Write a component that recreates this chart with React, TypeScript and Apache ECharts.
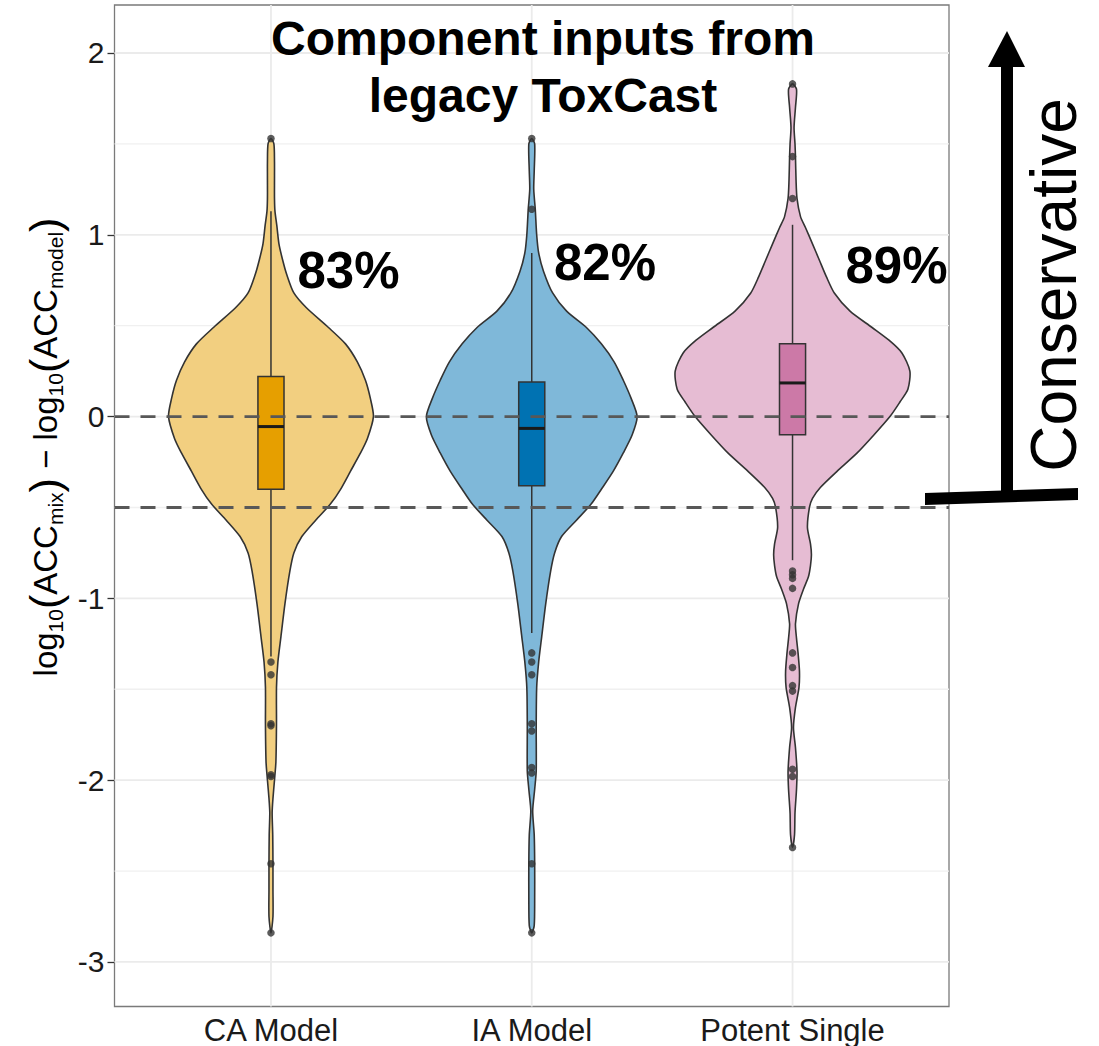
import React, { useEffect, useRef } from 'react';
import * as echarts from 'echarts';

// ---------- data ----------
const categories = ['CA Model', 'IA Model', 'Potent Single'];
const categoryPositions = [1, 2, 3];
const yTicks = [-3, -2, -1, 0, 1, 2];
const yMinorGrid = [-2.5, -1.5, -0.5, 0.5, 1.5];
const referenceLines = [0, -0.5];
const percentLabels = ['83%', '82%', '89%'];

// violin density profiles: [value, relative density (1 = widest violin)]
const caViolin: number[][] = [
  [1.53, 0], [1.5, 0.025], [1.4, 0.03], [1.3, 0.03], [1.2, 0.03], [1.13, 0.034], [1.05, 0.05],
  [0.95, 0.068], [0.86, 0.1], [0.78, 0.135], [0.68, 0.195], [0.6, 0.3], [0.49, 0.49], [0.4, 0.635],
  [0.3, 0.737], [0.2, 0.805], [0.1, 0.847], [0.0, 0.873], [-0.12, 0.822], [-0.2, 0.763], [-0.3, 0.678],
  [-0.4, 0.593], [-0.48, 0.508], [-0.57, 0.381], [-0.66, 0.263], [-0.75, 0.195], [-0.85, 0.161],
  [-1.03, 0.119], [-1.21, 0.085], [-1.35, 0.059], [-1.49, 0.047], [-1.69, 0.047], [-1.9, 0.042],
  [-2.0, 0.03], [-2.1, 0.017], [-2.18, 0.01], [-2.3, 0.015], [-2.46, 0.017], [-2.6, 0.017],
  [-2.75, 0.017], [-2.84, 0],
];
const iaViolin: number[][] = [
  [1.53, 0], [1.5, 0.025], [1.35, 0.021], [1.25, 0.017], [1.14, 0.03], [1.0, 0.042], [0.9, 0.059],
  [0.8, 0.1], [0.68, 0.178], [0.58, 0.297], [0.49, 0.466], [0.4, 0.593], [0.3, 0.703], [0.2, 0.78],
  [0.1, 0.847], [0.0, 0.898], [-0.1, 0.856], [-0.2, 0.78], [-0.3, 0.695], [-0.4, 0.593], [-0.48, 0.508],
  [-0.57, 0.381], [-0.66, 0.254], [-0.75, 0.195], [-0.85, 0.161], [-1.03, 0.119], [-1.21, 0.085],
  [-1.35, 0.059], [-1.49, 0.042], [-1.7, 0.038], [-1.95, 0.038], [-2.05, 0.025], [-2.17, 0.008],
  [-2.3, 0.021], [-2.46, 0.025], [-2.65, 0.025], [-2.8, 0.021], [-2.84, 0],
];
const psViolin: number[][] = [
  [1.83, 0], [1.8, 0.034], [1.7, 0.025], [1.59, 0.013], [1.5, 0.021], [1.43, 0.025], [1.3, 0.03],
  [1.2, 0.038], [1.1, 0.068], [1.04, 0.11], [0.95, 0.17], [0.86, 0.229], [0.77, 0.288], [0.68, 0.356],
  [0.58, 0.49], [0.49, 0.678], [0.42, 0.822], [0.35, 0.932], [0.25, 1.0], [0.15, 0.983], [0.08, 0.915],
  [0.0, 0.83], [-0.1, 0.695], [-0.2, 0.551], [-0.3, 0.381], [-0.39, 0.237], [-0.45, 0.17], [-0.5, 0.144],
  [-0.61, 0.127], [-0.7, 0.153], [-0.76, 0.161], [-0.82, 0.153], [-0.88, 0.136], [-0.95, 0.093],
  [-1.03, 0.051], [-1.14, 0.025], [-1.22, 0.034], [-1.3, 0.047], [-1.4, 0.059], [-1.49, 0.055],
  [-1.6, 0.025], [-1.71, 0.008], [-1.82, 0.025], [-1.95, 0.038], [-2.05, 0.034], [-2.18, 0.021],
  [-2.3, 0.017], [-2.37, 0],
];
const violins = [caViolin, iaViolin, psViolin];

// box stats: [lower whisker, Q1, median, Q3, upper whisker]
const caBox = [-1.32, -0.4, -0.055, 0.22, 1.13];
const iaBox = [-1.19, -0.38, -0.065, 0.19, 0.9];
const psBox = [-0.79, -0.1, 0.185, 0.4, 1.055];
const boxes = [caBox, iaBox, psBox];

const caOutliers = [1.53, -1.35, -1.42, -1.69, -1.7, -1.97, -1.98, -2.46, -2.84];
const iaOutliers = [1.53, 1.14, -1.3, -1.35, -1.42, -1.69, -1.73, -1.93, -1.96, -2.46, -2.84];
const psOutliers = [1.83, 1.43, 1.2, -0.85, -0.87, -0.89, -0.945, -1.3, -1.38, -1.48, -1.51, -1.94, -1.98, -2.37];
const outliers = [caOutliers, iaOutliers, psOutliers];

// ---------- styles ----------
const FONT = 'Liberation Sans, Arial, Helvetica, sans-serif';
const violinFill = ['#F2CF80', '#7FB8D9', '#E6BCD3'];
const boxFill = ['#E69F00', '#0072B2', '#CC79A7'];
const MAX_HALF = 0.45; // half of 0.9 band width
const BOX_HALF = 0.05;

export default function App() {
  const ref = useRef<HTMLDivElement>(null);
  useEffect(() => {
    const chart = echarts.init(ref.current!, null, { renderer: 'svg' });

    const outlierData: number[][] = [];
    outliers.forEach((arr, i) => arr.forEach((v) => outlierData.push([categoryPositions[i], v])));

    const option: any = {
      animation: false,
      backgroundColor: '#ffffff',
      grid: {
        left: 114.5, right: 1099 - 949, top: 5, bottom: 1046 - 1006.5,
        show: true, borderColor: '#7a7a7a', borderWidth: 1.3, backgroundColor: 'transparent',
      },
      xAxis: {
        type: 'value', min: 0.4, max: 3.6,
        axisLine: { show: false },
        splitLine: { show: false },
        axisTick: { show: true, customValues: categoryPositions, length: 7, lineStyle: { color: '#333', width: 1.3 } },
        axisLabel: {
          customValues: categoryPositions,
          formatter: (v: number) => categories[Math.round(v) - 1] || '',
          fontSize: 31, color: '#1a1a1a', fontFamily: FONT, margin: 8,
        },
      },
      yAxis: {
        type: 'value', min: -3.245, max: 2.264,
        axisLine: { show: false },
        splitLine: { show: false },
        axisTick: { show: true, customValues: yTicks, length: 7, lineStyle: { color: '#333', width: 1.3 } },
        axisLabel: {
          customValues: yTicks,
          formatter: (v: number) => String(Math.round(v)),
          fontSize: 30, color: '#1a1a1a', fontFamily: FONT, margin: 10,
        },
      },
      series: [
        {
          // horizontal grid lines
          type: 'custom', z: 1, silent: true,
          data: yTicks.map((v) => [1, v, 1]).concat(yMinorGrid.map((v) => [1, v, 0])),
          encode: { x: 0, y: 1 },
          renderItem: (params: any, api: any) => {
            const cs = params.coordSys;
            const y = api.coord([1, api.value(1)])[1];
            const major = api.value(2) === 1;
            return {
              type: 'line',
              shape: { x1: cs.x, y1: y, x2: cs.x + cs.width, y2: y },
              style: { stroke: major ? '#EBEBEB' : '#F0F0F0', lineWidth: major ? 1.8 : 1.3 },
            };
          },
        },
        {
          // vertical grid lines
          type: 'custom', z: 1, silent: true,
          data: categoryPositions.map((c) => [c, 0]),
          encode: { x: 0, y: 1 },
          renderItem: (params: any, api: any) => {
            const cs = params.coordSys;
            const x = api.coord([api.value(0), 0])[0];
            return {
              type: 'line',
              shape: { x1: x, y1: cs.y, x2: x, y2: cs.y + cs.height },
              style: { stroke: '#EBEBEB', lineWidth: 1.8 },
            };
          },
        },
        {
          // violins + boxes
          type: 'custom', z: 2, silent: true,
          data: categoryPositions.map((c) => [c, 0]),
          encode: { x: 0, y: 1 },
          renderItem: (params: any, api: any) => {
            const i = params.dataIndex;
            const cx = api.value(0);
            const prof = violins[i];
            const right = prof.map(([v, d]) => api.coord([cx + d * MAX_HALF, v]));
            const left = prof.slice(1, prof.length - 1).reverse().map(([v, d]) => api.coord([cx - d * MAX_HALF, v]));
            const [lo, q1, med, q3, hi] = boxes[i];
            const c0 = api.coord([cx, 0])[0];
            const tl = api.coord([cx - BOX_HALF, q3]);
            const br = api.coord([cx + BOX_HALF, q1]);
            const yMed = api.coord([cx, med])[1];
            const yLo = api.coord([cx, lo])[1];
            const yHi = api.coord([cx, hi])[1];
            return {
              type: 'group',
              children: [
                {
                  type: 'polygon',
                  shape: { points: right.concat(left), smooth: 0.25 },
                  style: { fill: violinFill[i], stroke: '#333333', lineWidth: 1.6 },
                },
                { type: 'line', shape: { x1: c0, y1: yHi, x2: c0, y2: tl[1] }, style: { stroke: '#333', lineWidth: 1.5 } },
                { type: 'line', shape: { x1: c0, y1: br[1], x2: c0, y2: yLo }, style: { stroke: '#333', lineWidth: 1.5 } },
                {
                  type: 'rect',
                  shape: { x: tl[0], y: tl[1], width: br[0] - tl[0], height: br[1] - tl[1] },
                  style: { fill: boxFill[i], stroke: '#333', lineWidth: 1.5 },
                },
                { type: 'line', shape: { x1: tl[0], y1: yMed, x2: br[0], y2: yMed }, style: { stroke: '#1a1a1a', lineWidth: 3 } },
              ],
            };
          },
        },
        {
          type: 'scatter', z: 3, silent: true,
          data: outlierData,
          symbol: 'circle', symbolSize: 7.5,
          itemStyle: { color: '#333333' },
        },
        {
          // dashed reference lines
          type: 'custom', z: 4, silent: true,
          data: referenceLines.map((v) => [1, v]),
          encode: { x: 0, y: 1 },
          renderItem: (params: any, api: any) => {
            const cs = params.coordSys;
            const y = api.coord([1, api.value(1)])[1];
            return {
              type: 'line',
              shape: { x1: cs.x, y1: y, x2: cs.x + cs.width, y2: y },
              style: { stroke: '#585858', lineWidth: 2.8, lineDash: [15, 11] },
            };
          },
        },
      ],
      graphic: [
        {
          type: 'text', x: 543, y: 38, z: 10,
          style: { text: 'Component inputs from', font: `bold 48px ${FONT}`, fill: '#000', align: 'center', verticalAlign: 'middle' },
        },
        {
          type: 'text', x: 543, y: 95, z: 10,
          style: { text: 'legacy ToxCast', font: `bold 48px ${FONT}`, fill: '#000', align: 'center', verticalAlign: 'middle' },
        },
        {
          type: 'text', x: 348.5, y: 270, z: 10,
          style: { text: percentLabels[0], font: `bold 51px ${FONT}`, fill: '#000', align: 'center', verticalAlign: 'middle' },
        },
        {
          type: 'text', x: 605, y: 262.5, z: 10,
          style: { text: percentLabels[1], font: `bold 51px ${FONT}`, fill: '#000', align: 'center', verticalAlign: 'middle' },
        },
        {
          type: 'text', x: 896.5, y: 265, z: 10,
          style: { text: percentLabels[2], font: `bold 51px ${FONT}`, fill: '#000', align: 'center', verticalAlign: 'middle' },
        },
        {
          type: 'text', x: 45, y: 447, rotation: Math.PI / 2, z: 10,
          style: {
            text: '{n|log}{s|10}{p|(}{n|ACC}{s|mix}{p|)}{n| − log}{s|10}{p|(}{n|ACC}{s|model}{p|)}',
            align: 'center', verticalAlign: 'middle', fill: '#000',
            rich: {
              n: { fontSize: 33, fontFamily: FONT, fill: '#000' },
              s: { fontSize: 21, fontFamily: FONT, fill: '#000', padding: [20, 0, 0, 0] },
              p: { fontSize: 43, fontFamily: FONT, fill: '#000' },
            },
          },
        },
        {
          type: 'line', z: 10,
          shape: { x1: 1007, y1: 492, x2: 1007, y2: 60 },
          style: { stroke: '#000', lineWidth: 12 },
        },
        {
          type: 'polygon', z: 10,
          shape: { points: [[988, 67], [1025, 67], [1007, 31]] },
          style: { fill: '#000' },
        },
        {
          type: 'polygon', z: 10,
          shape: { points: [[925, 493], [1078, 488], [1078, 500], [925, 505]] },
          style: { fill: '#000' },
        },
        {
          type: 'text', x: 1054, y: 285, rotation: Math.PI / 2, z: 10,
          style: { text: 'Conservative', font: `64px ${FONT}`, fill: '#000', align: 'center', verticalAlign: 'middle' },
        },
      ],
    };
    chart.setOption(option);
    return () => chart.dispose();
  }, []);
  return (
    <div
      ref={ref}
      style={{ position: 'fixed', left: 0, top: 0, width: 1099, height: 1046, background: '#fff' }}
    />
  );
}
